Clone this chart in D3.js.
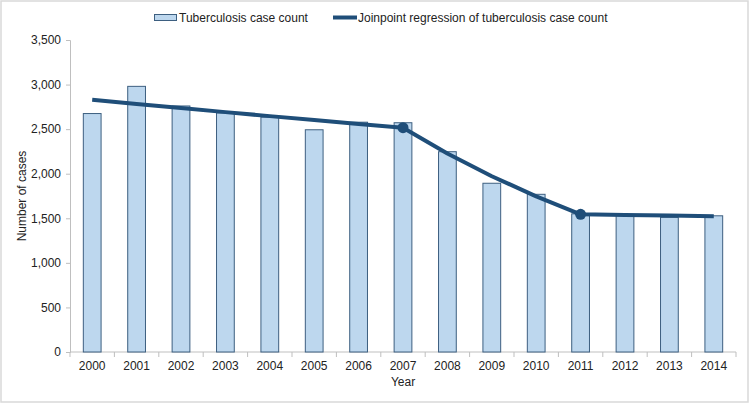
<!DOCTYPE html>
<html>
<head>
<meta charset="utf-8">
<script src="https://cdn.jsdelivr.net/npm/d3@7/dist/d3.min.js"></script>
<style>
html,body{margin:0;padding:0;background:#fff;}
svg{display:block;font-family:"Liberation Sans",Arial,sans-serif;}
</style>
</head>
<body>
<svg id="chart" width="750" height="404"></svg>
<script>
const years = ["2000","2001","2002","2003","2004","2005","2006","2007","2008","2009","2010","2011","2012","2013","2014"];
const caseCounts = [2675,2980,2760,2682,2635,2493,2578,2572,2247,1893,1769,1550,1538,1510,1528];
const joinpointFit = [2830,2783,2736,2691,2646,2602,2559,2516,2227,1972,1746,1545,1537,1530,1522];
const joinpointYears = ["2007","2011"];
const yTicks = [0,500,1000,1500,2000,2500,3000,3500];
const seriesNames = ["Tuberculosis case count","Joinpoint regression of tuberculosis case count"];

const svg = d3.select("#chart");
const plotL = 70, plotR = 736, plotT = 40, plotB = 352;
const navy = "#1f4e79";

svg.append("rect").attr("x",1).attr("y",1).attr("width",747).attr("height",401)
  .attr("fill","#fff").attr("stroke","#d9d9d9").attr("stroke-width",1.5);

const xb = d3.scaleBand().domain(years).range([plotL,plotR]);
const y = d3.scaleLinear().domain([0,3500]).range([plotB,plotT]);

// y axis
const yAxis = d3.axisLeft(y).tickValues(yTicks).tickSize(4).tickPadding(5).tickFormat(d3.format(","));
const gy = svg.append("g").attr("transform",`translate(${plotL},0)`).call(yAxis);
gy.select(".domain").attr("stroke","#bfbfbf");
gy.selectAll(".tick line").attr("stroke","#bfbfbf");
gy.selectAll(".tick text").attr("font-size",12).attr("fill","#222").attr("font-family","Liberation Sans, Arial, sans-serif");

// x axis
const gx = svg.append("g").attr("transform",`translate(0,${plotB})`);
gx.append("line").attr("x1",plotL).attr("x2",plotR).attr("y1",0).attr("y2",0).attr("stroke","#bfbfbf");
const bounds = years.map(d=>xb(d)).concat([plotR]);
gx.selectAll("line.tk").data(bounds).enter().append("line").attr("class","tk")
  .attr("x1",d=>d).attr("x2",d=>d).attr("y1",0).attr("y2",5).attr("stroke","#bfbfbf");
gx.selectAll("text").data(years).enter().append("text")
  .attr("x",d=>xb(d)+xb.bandwidth()/2).attr("y",18)
  .attr("text-anchor","middle").attr("font-size",12).attr("fill","#222").text(d=>d);

// bars
const barW = xb.bandwidth()*0.4;
svg.append("g").selectAll("rect").data(years).enter().append("rect")
  .attr("x",d=>xb(d)+xb.bandwidth()/2-barW/2)
  .attr("width",barW)
  .attr("y",(d,i)=>y(caseCounts[i]))
  .attr("height",(d,i)=>plotB-y(caseCounts[i]))
  .attr("fill","#bdd7ee").attr("stroke","#3d5f80").attr("stroke-width",1);

// line
const cx = d=>xb(d)+xb.bandwidth()/2;
const line = d3.line().x(d=>cx(d.year)).y(d=>y(d.v));
const pts = years.map((yr,i)=>({year:yr,v:joinpointFit[i]}));
svg.append("path").datum(pts).attr("d",line).attr("fill","none")
  .attr("stroke",navy).attr("stroke-width",4).attr("stroke-linejoin","round");
svg.append("g").selectAll("circle").data(pts.filter(p=>joinpointYears.includes(p.year))).enter()
  .append("circle").attr("cx",d=>cx(d.year)).attr("cy",d=>y(d.v)).attr("r",5.5).attr("fill",navy);

// axis titles
svg.append("text").attr("transform","translate(26,196) rotate(-90)").attr("text-anchor","middle")
  .attr("font-size",12).attr("fill","#222").text("Number of cases");
svg.append("text").attr("x",403).attr("y",386).attr("text-anchor","middle")
  .attr("font-size",12).attr("fill","#222").text("Year");

// legend
const lg = svg.append("g");
lg.append("rect").attr("x",154.5).attr("y",14.5).attr("width",22).attr("height",6)
  .attr("fill","#bdd7ee").attr("stroke","#3d5f80");
lg.append("text").attr("x",179).attr("y",22).attr("font-size",12).attr("fill","#222").text(seriesNames[0]);
lg.append("line").attr("x1",333).attr("x2",357).attr("y1",17.5).attr("y2",17.5)
  .attr("stroke",navy).attr("stroke-width",4);
lg.append("text").attr("x",358).attr("y",22).attr("font-size",12).attr("fill","#222").text(seriesNames[1]);
</script>
</body>
</html>
